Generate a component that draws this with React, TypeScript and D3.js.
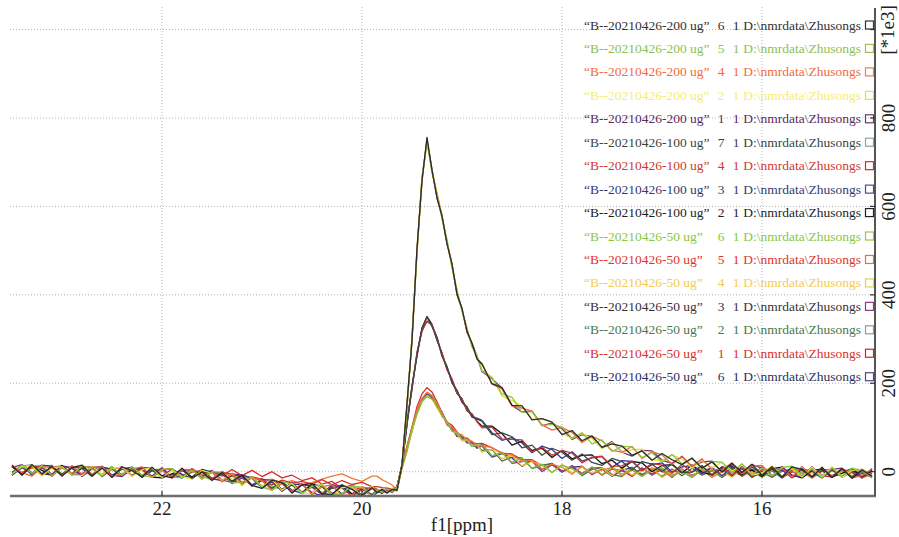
import React from 'react'
import * as d3 from 'd3'

// chemical shift grid (ppm), left to right
const ppm = [
  23.5, 23.4, 23.3, 23.2, 23.1, 23.0, 22.9, 22.8, 22.7, 22.6, 22.5, 22.4, 22.3, 22.2, 22.1, 22.0, 21.9, 21.8, 21.7, 21.6,
  21.5, 21.4, 21.3, 21.2, 21.1, 21.0, 20.9, 20.8, 20.7, 20.6, 20.5, 20.4, 20.3, 20.2, 20.1, 20.0, 19.9,
  19.85, 19.8, 19.75, 19.7, 19.65, 19.6, 19.55, 19.5, 19.45, 19.4, 19.35, 19.3, 19.25, 19.2, 19.15, 19.1, 19.05, 19.0, 18.95, 18.9, 18.85,
  18.8, 18.7, 18.6, 18.5, 18.4, 18.3, 18.2, 18.1, 18.0, 17.9, 17.8, 17.7, 17.6, 17.5, 17.4, 17.3, 17.2, 17.1, 17.0, 16.9,
  16.8, 16.7, 16.6, 16.5, 16.4, 16.3, 16.2, 16.1, 16.0, 15.9, 15.8, 15.7, 15.6, 15.5, 15.4, 15.3, 15.2, 15.1, 15.0, 14.9
]

// intensities in units of 1e3
const s200_6 = [
  14, -8, 16, -5, 12, -10, 9, 15, -9, 8, -13, 11, 2, -12, 10, -9, -14, 8, -15, 0, -20, -2, -22, -8, -31, -38, -19, -25, -48, -30, -27, -50, -52, -30, -40, -55, -36,
  -47, -40, -48, -40, -42, 15, 155, 295, 505, 658, 756, 682, 620, 578, 516, 470, 402, 369, 318, 290, 255,
  243, 199, 190, 150, 149, 117, 120, 112, 84, 93, 70, 81, 55, 63, 58, 37, 47, 26, 41, 27, 16, 31, 8, 22, 0, 19, -2, 17, -8, 11, -12, 11, 5, -12, 10, -13, 7, -15, 4, -11
]
const s200_5 = [
  -6, 15, -4, 14, -9, 10, -8, 13, 6, -10, 9, -8, 11, -8, -13, 5, 7, -14, 3, -17, 0, -1, -25, -24, -12, -35, -42, -22, -28, -50, -33, -30, -52, -50, -32, -36, -56,
  -42, -47, -39, -44, -35, 12, 144, 304, 496, 663, 746, 677, 629, 573, 525, 462, 411, 363, 324, 282, 263,
  228, 212, 176, 168, 134, 136, 104, 107, 101, 76, 88, 63, 72, 46, 57, 56, 32, 43, 22, 39, 18, 29, 6, 23, 21, -3, 18, -6, 9, -10, 10, 12, -9, 6, -14, 9, -10, 8, 3, -14
]
const s200_4 = [
  15, -2, -10, 12, 9, -9, 14, -6, 10, 11, -10, -5, 6, 11, -13, 3, -15, 5, 4, -15, 0, -23, -4, -28, -14, -20, -42, -26, -45, -26, -52, -34, -30, -54, -52, -35, -38,
  -40, -46, -40, -46, -36, 17, 153, 297, 503, 657, 752, 678, 628, 580, 516, 467, 402, 370, 315, 289, 256,
  245, 198, 187, 149, 144, 137, 106, 94, 100, 89, 66, 80, 70, 48, 44, 57, 30, 45, 38, 17, 34, 12, 29, 4, 5, 20, -5, 13, 14, -9, 8, -12, 12, -10, 9, -11, 8, -14, -9, 6
]
const s200_2 = [
  -6, 12, 14, -10, 9, 11, -7, -9, 13, -7, 7, 10, -11, 4, 9, -13, 3, -11, -16, 3, -3, -20, -5, -32, -12, -34, -18, -42, -26, -48, -50, -28, -54, -36, -34, -56, -33,
  -46, -39, -46, -38, -43, 13, 146, 306, 494, 664, 745, 683, 631, 571, 523, 460, 410, 362, 326, 283, 262,
  230, 214, 171, 161, 149, 118, 120, 112, 86, 75, 86, 75, 52, 66, 43, 50, 51, 27, 25, 38, 29, 8, 26, 8, 22, 1, 16, -7, -3, 13, -10, 7, -12, 10, -11, 11, -13, 3, 6, -13
]
const s200_1 = [
  10, 16, -8, 9, -9, 12, 8, -11, 8, 12, -8, -11, 7, 5, -10, 9, -13, 2, 5, -16, -1, -4, -27, -14, -30, -17, -20, -44, -24, -47, -35, -51, -29, -37, -55, -39, -52,
  -41, -48, -38, -45, -34, 16, 147, 302, 498, 665, 747, 684, 619, 577, 517, 469, 400, 367, 316, 291, 261,
  226, 210, 189, 150, 135, 137, 104, 110, 97, 73, 84, 79, 55, 68, 44, 35, 48, 47, 26, 19, 35, 12, 22, 24, -1, 16, -2, 16, 8, -10, 12, -9, -11, 11, -9, 5, 8, -14, -4, -13
]
const s100_7 = [
  -2, 13, 15, -8, 11, -6, 12, 7, -11, 10, 6, -9, 8, -13, 2, 5, -12, 7, -15, -1, -2, -20, -8, -10, -33, -20, -38, -22, -48, -29, -33, -52, -37, -30, -54, -52, -34,
  -40, -47, -41, -47, -35, 14, 106, 193, 262, 324, 350, 328, 303, 261, 237, 202, 184, 158, 147, 125, 119,
  114, 84, 88, 79, 54, 60, 37, 53, 44, 26, 40, 21, 14, 30, 23, 4, 23, 17, 0, 18, -2, -1, 14, -9, 11, 7, -10, 11, -8, 6, -13, 5, 7, -12, 3, -13, 7, -12, 4, -11
]
const s100_4 = [
  14, -3, 9, 12, -10, 9, -4, 12, 9, -9, 5, 11, -9, 6, -13, 4, 7, -13, -1, 3, -16, -1, -6, -24, -12, -17, -30, -19, -26, -22, -28, -18, -30, -20, -29, -24, -34,
  -34, -36, -37, -39, -36, 12, 114, 187, 269, 317, 341, 333, 298, 269, 232, 210, 178, 164, 139, 131, 113,
  99, 101, 74, 73, 72, 45, 55, 37, 48, 42, 20, 33, 35, 12, 13, 24, 2, 19, 15, -4, 17, -1, 12, -7, 11, -7, 12, -11, 4, 6, -11, 9, -11, 7, -9, -12, 6, -2, -14, -4
]
const s100_3 = [
  -8, 9, -4, 15, 12, -8, 9, -10, 6, 12, -8, 6, 10, -12, 3, -10, 5, -6, -16, 2, -15, -6, -24, -8, -14, -36, -24, -44, -28, -29, -48, -54, -33, -50, -33, -54, -56,
  -47, -40, -47, -40, -43, 13, 113, 186, 270, 322, 340, 332, 304, 263, 238, 201, 183, 157, 144, 123, 121,
  116, 88, 71, 77, 65, 43, 58, 50, 30, 45, 24, 31, 34, 10, 25, 23, 3, 16, 20, -1, 11, 14, -5, 10, -9, 10, 6, -9, 11, -10, 5, -12, 5, 2, -14, 7, -12, 3, -14, 7
]
const s100_2 = [
  12, -6, 14, 3, -9, 14, -7, 8, 11, -11, 8, -7, 4, 9, -12, -14, -5, 4, -12, 5, -2, -22, -8, -28, -12, -34, -19, -41, -30, -48, -28, -34, -52, -32, -50, -38, -55,
  -42, -49, -40, -45, -34, 15, 108, 194, 263, 325, 351, 333, 297, 268, 231, 207, 177, 165, 138, 130, 114,
  103, 103, 86, 60, 69, 48, 53, 32, 48, 29, 37, 38, 18, 26, 8, 23, 20, 0, 14, 16, -3, 15, -1, -7, 8, 12, -7, 4, -11, 7, 10, -8, -14, 3, 6, -12, -4, 7, -12, 3
]
const s50_6 = [
  -1, 15, -6, 11, 14, -7, 9, -8, 10, -6, 12, -10, 5, -11, 3, 7, -12, -14, 4, -11, -18, 1, -22, -12, -31, -16, -33, -40, -24, -48, -32, -30, -50, -52, -32, -37, -54,
  -41, -48, -38, -44, -42, 8, 47, 97, 131, 159, 170, 164, 153, 125, 114, 92, 89, 73, 72, 57, 60,
  60, 36, 43, 21, 31, 8, 17, -2, 15, 7, -7, 11, -7, 11, -6, 6, -11, 4, 8, -11, 1, -13, 7, 2, -11, 8, -8, 3, -13, 2, 7, -11, -2, -13, 8, -12, 1, 6, -14, -2
]
const s50_5 = [
  13, -4, 15, -8, 9, 10, -7, 13, -6, 11, -8, -10, 10, 3, -12, 5, 6, -11, 5, -6, -2, -9, -4, -15, -12, -20, -17, -26, -20, -29, -25, -17, -10, -5, -15, -22, -10,
  -10, -18, -24, -30, -40, 14, 56, 99, 140, 165, 180, 172, 154, 133, 107, 101, 87, 83, 72, 69, 59,
  58, 55, 40, 38, 23, 26, 6, 17, 10, -6, 13, -5, 4, 9, -10, 4, -11, 9, 0, -11, 6, -10, 4, -13, 0, 7, -11, 1, -10, 6, -13, 3, -2, -14, 5, -11, 1, -12, 6, -9
]
const s50_4 = [
  -5, 13, 9, -9, 14, -5, 10, 13, -9, 8, -10, 7, 8, -9, 9, -13, -5, 4, -13, 5, -19, -4, -16, -25, -11, -34, -40, -24, -26, -46, -33, -48, -31, -53, -36, -35, -52,
  -46, -41, -46, -37, -41, 7, 45, 91, 130, 158, 172, 164, 144, 127, 113, 91, 86, 70, 71, 59, 61,
  44, 51, 29, 37, 13, 23, 15, -2, 16, -3, 10, -4, 9, -9, 10, -8, 2, 8, -13, 3, 3, -12, 8, -8, 2, -13, 6, -2, -12, 6, -11, 4, -12, -1, 6, -13, 1, -9, 4, -12
]
const s50_3 = [
  11, -7, 12, 13, -6, 14, -7, -4, 10, -10, 6, 10, -9, 10, -12, 3, 7, -14, 3, -12, 3, -20, -9, -8, -30, -18, -41, -26, -44, -28, -48, -30, -48, -54, -36, -55, -38,
  -41, -48, -41, -45, -35, 12, 54, 93, 138, 165, 179, 170, 147, 134, 106, 98, 81, 79, 65, 67, 53,
  62, 35, 44, 19, 23, 24, 0, 16, 0, 14, -6, 8, 9, -10, 3, -9, 9, -8, 5, -13, 6, -8, 2, 8, -12, 1, -9, 6, -12, 1, 4, -14, -1, -11, 3, 6, -13, 1, -12, 4
]
const s50_2 = [
  -7, 16, -3, 11, 14, -9, 9, 11, -7, 12, -10, 6, 9, -10, 5, -13, 5, -6, -15, 2, 1, -19, -24, -8, -15, -36, -21, -40, -26, -47, -28, -48, -53, -33, -52, -34, -55,
  -47, -40, -45, -39, -42, 9, 48, 98, 133, 160, 172, 167, 152, 127, 113, 93, 88, 72, 70, 58, 59,
  48, 50, 24, 33, 31, 7, 15, 17, -1, 11, -9, 5, 9, -6, -11, 9, -6, 5, -11, 6, -9, 8, -8, 2, -12, 4, 8, -12, -1, -13, 1, 6, -12, -1, -14, 3, -11, 4, -1, -12
]
const s50_1 = [
  12, -3, 14, -7, 10, 13, -6, 11, -9, 9, 6, -10, 10, -8, 7, -11, 6, -11, 7, -7, 2, -10, 5, -9, 3, -11, 0, -14, -8, -20, -14, -28, -22, -38, -30, -44, -36,
  -41, -46, -41, -39, -36, 14, 58, 101, 147, 176, 190, 180, 158, 134, 112, 105, 90, 78, 76, 66, 63,
  64, 54, 42, 40, 27, 27, 14, 19, 1, 10, -4, 10, -8, 6, 3, -11, 6, -5, 8, -9, 1, -12, 4, 2, -13, 6, -7, 1, -12, 6, -11, -1, 4, -14, 1, -9, 3, -13, 1, -1
]
const s50_6b = [
  -8, 12, 15, -5, -7, 13, 9, -9, 9, 10, -12, 7, -10, 9, 8, -12, -6, -14, 4, -7, -16, -20, -5, -8, -32, -19, -38, -22, -42, -49, -30, -49, -37, -32, -53, -40, -36,
  -48, -42, -48, -38, -41, 11, 52, 92, 137, 164, 176, 171, 148, 135, 107, 99, 80, 78, 66, 65, 54,
  58, 33, 41, 31, 12, 26, 5, 17, 1, 10, 12, -7, 6, -10, 3, 10, -8, 6, -12, 3, 1, -13, 7, -7, 5, -10, 8, -13, 0, 3, -14, 1, -9, 5, -12, 7, -11, -1, -13, 3
]

const traces = [s200_6, s200_5, s200_4, s200_2, s200_1, s100_7, s100_4, s100_3, s100_2, s50_6, s50_5, s50_4, s50_3, s50_2, s50_1, s50_6b]

const sampleNames = [
  'B--20210426-200 ug', 'B--20210426-200 ug', 'B--20210426-200 ug', 'B--20210426-200 ug', 'B--20210426-200 ug',
  'B--20210426-100 ug', 'B--20210426-100 ug', 'B--20210426-100 ug', 'B--20210426-100 ug',
  'B--20210426-50 ug', 'B--20210426-50 ug', 'B--20210426-50 ug', 'B--20210426-50 ug', 'B--20210426-50 ug', 'B--20210426-50 ug', 'B--20210426-50 ug'
]
const expNos = [6, 5, 4, 2, 1, 7, 4, 3, 2, 6, 5, 4, 3, 2, 1, 6]
const procNo = '1'
const dataPath = 'D:\\nmrdata\\Zhusongs'

const lineColors = ['#2b2b2b', '#8cc63f', '#f0643c', '#e8e03a', '#7a2e7e', '#3c4a40', '#d2322d', '#2e3a9a',
  '#111111', '#7cbf3a', '#ee7a3a', '#f2c230', '#8a3a8e', '#3f7a46', '#d42a2a', '#34348a']
const textColors = ['#333333', '#8cc152', '#f26b3a', '#f4ee70', '#5c2c5c', '#3a463c', '#d03a30', '#363a72',
  '#1e1e1e', '#8dc63f', '#e0362a', '#f4cc52', '#3a3232', '#4a784a', '#d8322a', '#2f2f5e']
const boxColors = ['#333333', '#9ac048', '#e8804a', '#e6e040', '#6a3a6a', '#8aa898', '#c83030', '#4a4a9a',
  '#222222', '#a0c448', '#e87040', '#e8d048', '#8a3a8a', '#8aa08a', '#c82828', '#4a4a8a']

const xTicks = [22, 20, 18, 16]
const yTicks = [0, 200, 400, 600, 800, 1000]
const yLabelTicks = [0, 200, 400, 600, 800]

const W = 899
const H = 537
const margin = { top: 7, right: 24, bottom: 41, left: 10 }
const serif = '"Liberation Serif", "Times New Roman", serif'

export default function App () {
  const x = d3.scaleLinear().domain([23.52, 14.87]).range([margin.left, W - margin.right])
  const y = d3.scaleLinear().domain([-55, 1051]).range([H - margin.bottom, margin.top])
  const x0 = margin.left
  const x1 = W - margin.right
  const yb = H - margin.bottom
  const yt = margin.top

  const line = d3.line<number>()
    .x((d, i) => x(ppm[i]))
    .y(d => y(d))

  const legendY = d3.scaleLinear().domain([0, 15]).range([25, 376.7])

  // first legend entry drawn last (on top)
  const order = traces.map((t, i) => i).reverse()

  return (
    <svg width={W} height={H} style={{ position: 'absolute', left: 0, top: 0, background: '#fff' }}
      fontFamily={serif}>
      <defs>
        <clipPath id='plotClip'>
          <rect x={x0} y={yt} width={x1 - x0} height={yb - yt} />
        </clipPath>
      </defs>

      {/* grid */}
      <g stroke='#b4b4b4' strokeWidth={1} strokeDasharray='1,2'>
        {xTicks.map(t => (
          <line key={'gx' + t} x1={x(t)} x2={x(t)} y1={yt} y2={yb} />
        ))}
        {yTicks.map(t => (
          <line key={'gy' + t} x1={x0} x2={x1} y1={y(t)} y2={y(t)} />
        ))}
      </g>

      {/* spectra */}
      <g clipPath='url(#plotClip)' fill='none' strokeWidth={1.3} strokeLinejoin='round'>
        {order.map(i => (
          <path key={'tr' + i} d={line(traces[i]) || ''} stroke={lineColors[i]} />
        ))}
      </g>

      {/* legend */}
      <g fontSize={13.5}>
        {sampleNames.map((name, i) => {
          const cy = legendY(i)
          return (
            <g key={'lg' + i} fill={textColors[i]}>
              <text x={584} y={cy + 4.5}>{'\u201C' + name + '\u201D'}</text>
              <text x={721} y={cy + 4.5} textAnchor='middle'>{expNos[i]}</text>
              <text x={736} y={cy + 4.5} textAnchor='middle'>{procNo}</text>
              <text x={861} y={cy + 4.5} textAnchor='end'>{dataPath}</text>
              <rect x={865.5} y={cy - 4} width={8} height={8} fill='none' stroke={boxColors[i]} strokeWidth={1.2} />
            </g>
          )
        })}
      </g>

      {/* axes */}
      <line x1={x0} x2={x1 + 1} y1={yb} y2={yb} stroke='#6e6e6e' strokeWidth={2.4} />
      <line x1={x1} x2={x1} y1={yt + 1} y2={yb} stroke='#555' strokeWidth={2} />
      {xTicks.map(t => (
        <g key={'xt' + t}>
          <line x1={x(t)} x2={x(t)} y1={yb} y2={yb - 5} stroke='#333' strokeWidth={1.2} />
          <text x={x(t)} y={515} textAnchor='middle' fontSize={19} fill='#222'>{t}</text>
        </g>
      ))}
      {yTicks.map(t => (
        <line key={'yt' + t} x1={x1} x2={x1 - 5} y1={y(t)} y2={y(t)} stroke='#333' strokeWidth={1.2} />
      ))}
      {yLabelTicks.map(t => (
        <text key={'yl' + t} transform={`translate(895,${y(t)}) rotate(-90)`} textAnchor='middle'
          fontSize={19} fill='#222'>{t}</text>
      ))}
      <text transform='translate(894,30) rotate(-90)' textAnchor='middle' fontSize={19} fill='#222'>[*1e3]</text>
      <text x={462} y={531} textAnchor='middle' fontSize={19} fill='#222'>f1[ppm]</text>
    </svg>
  )
}
